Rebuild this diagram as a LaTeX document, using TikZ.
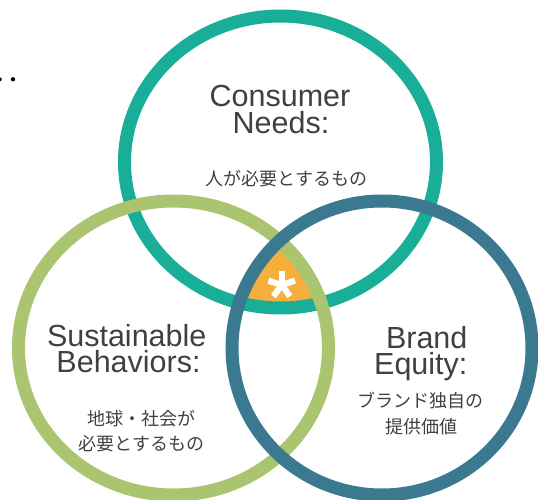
\documentclass[tikz,border=0pt]{standalone}
\usepackage{fontspec}
\setmainfont{Liberation Sans}
\newfontfamily\jpfont{Noto Sans CJK JP}
\definecolor{tealC}{HTML}{19AE97}
\definecolor{greenC}{HTML}{AAC470}
\definecolor{blueC}{HTML}{3A798F}
\definecolor{orangeC}{HTML}{F4AF3D}
\definecolor{txtC}{HTML}{404040}
\tikzset{
  ring/.style={line width=13pt},
  title/.style={font=\fontsize{30.5}{26}\selectfont, text=txtC, inner sep=0pt, anchor=base},
  jp/.style={font=\jpfont\fontsize{18}{22}\selectfont, text=txtC, inner sep=0pt, anchor=center},
  astarm/.style={draw=white, line width=6pt}
}
\begin{document}
\begin{tikzpicture}[x=1pt,y=-1pt]
\useasboundingbox (0,0) rectangle (538,500);
\coordinate (tc) at (280.5,162);
\coordinate (gc) at (173.5,348);
\coordinate (bc) at (382,348);
% centre overlap
\begin{scope}
  \clip (tc) ellipse [x radius=156pt, y radius=146pt];
  \clip (gc) ellipse [x radius=155pt, y radius=147pt];
  \fill[orangeC] (bc) ellipse [x radius=150pt, y radius=147pt];
\end{scope}
% rings
\draw[ring, tealC] (tc) ellipse [x radius=156pt, y radius=146pt];
\draw[ring, greenC] (gc) ellipse [x radius=155pt, y radius=147pt];
\draw[ring, blueC] (bc) ellipse [x radius=150pt, y radius=147pt];
% asterisk
\coordinate (ast) at (281.7,285);
\foreach \a in {90,18,162,-54,234} { \draw[astarm] (ast) -- ++(\a:14pt); }
% dots
\fill[black] (-0.5,79.3) circle (2.2pt);
\fill[black] (13,79.3) circle (2.2pt);
% texts
\node[title] (t1) at (280,106.7) {Consumer};
\node[title] (t2) at (281,133.3) {Needs:};
\node[jp] (t3) at (286.5,179) {人が必要とするもの};
\node[title] (s1) at (126.7,346.7) {Sustainable};
\node[title] (s2) at (128.5,372.5) {Behaviors:};
\node[jp] (s3) at (141.7,418.5) {地球・社会が};
\node[jp] (s4) at (141.5,443.5) {必要とするもの};
\node[title] (b1) at (426.7,348.3) {Brand};
\node[title] (b2) at (420.8,374.3) {Equity:};
\node[jp] (b3) at (420,401) {ブランド独自の};
\node[jp] (b4) at (421.5,426.7) {提供価値};
\end{tikzpicture}
\end{document}
